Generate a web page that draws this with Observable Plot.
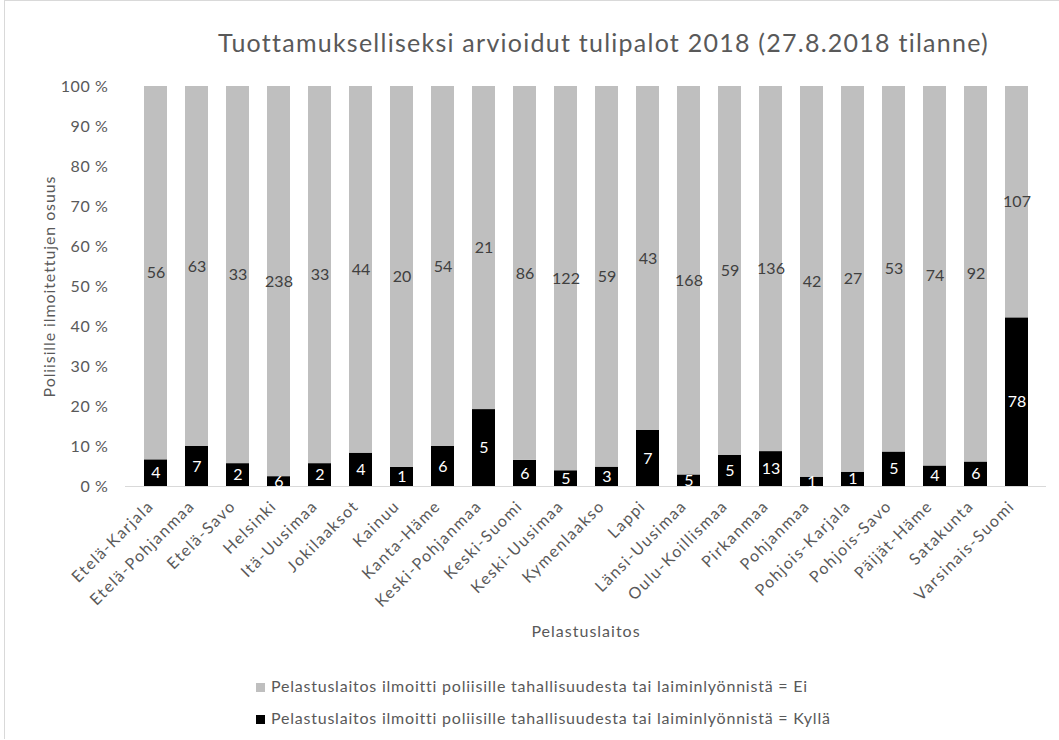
<!DOCTYPE html>
<html>
<head>
<meta charset="utf-8">
<script src="https://cdn.jsdelivr.net/npm/d3@7"></script>
<script src="https://cdn.jsdelivr.net/npm/@observablehq/plot@0.6"></script>
<style>
  html, body { margin: 0; padding: 0; background: #fff; }
  #wrap { position: relative; width: 1059px; height: 740px; overflow: hidden; font-family: Lato, "Open Sans", sans-serif; }
  #frame { position: absolute; left: 4px; top: 0; width: 1100px; height: 738px; border-left: 1px solid #d9d9d9; border-top: 1px solid #d9d9d9; }
  #title { position: absolute; left: 218px; top: 27px; font-size: 25px; letter-spacing: 1.25px; color: #595959; white-space: nowrap; }
  #chart { position: absolute; left: 0; top: 0; }
  .leg { position: absolute; left: 256px; font-size: 16px; letter-spacing: 0.78px; color: #595959; white-space: nowrap; }
  .sw { display: inline-block; width: 9px; height: 9px; margin-right: 6px; vertical-align: 0px; }
  #chart g[aria-label="x-axis tick label"] text { font-size: 16px; letter-spacing: 1.5px; }
  #chart g[aria-label="y-axis tick label"] text { font-size: 16px; letter-spacing: 0.6px; }
  #chart g[aria-label="y-axis label"] text { font-size: 16px; letter-spacing: 0.9px; }
  #chart g[aria-label="x-axis label"] text { font-size: 16px; letter-spacing: 1px; }
</style>
</head>
<body>
<div id="wrap">
  <div id="frame"></div>
  <div id="chart"></div>
  <div id="title">Tuottamukselliseksi arvioidut tulipalot 2018 (27.8.2018 tilanne)</div>
  <div class="leg" style="top:676px"><span class="sw" style="background:#bfbfbf"></span>Pelastuslaitos ilmoitti poliisille tahallisuudesta tai laiminlyönnistä = Ei</div>
  <div class="leg" style="top:708px"><span class="sw" style="background:#000"></span>Pelastuslaitos ilmoitti poliisille tahallisuudesta tai laiminlyönnistä = Kyllä</div>
</div>
<script>
const categories = ["Etelä-Karjala","Etelä-Pohjanmaa","Etelä-Savo","Helsinki","Itä-Uusimaa","Jokilaaksot","Kainuu","Kanta-Häme","Keski-Pohjanmaa","Keski-Suomi","Keski-Uusimaa","Kymenlaakso","Lappi","Länsi-Uusimaa","Oulu-Koillismaa","Pirkanmaa","Pohjanmaa","Pohjois-Karjala","Pohjois-Savo","Päijät-Häme","Satakunta","Varsinais-Suomi"];
const kylla = [4,7,2,6,2,4,1,6,5,6,5,3,7,5,5,13,1,1,5,4,6,78];
const ei = [56,63,33,238,33,44,20,54,21,86,122,59,43,168,59,136,42,27,53,74,92,107];
const yTicks = [0,0.1,0.2,0.3,0.4,0.5,0.6,0.7,0.8,0.9,1];
const yLabel = "Poliisille ilmoitettujen osuus";
const xLabel = "Pelastuslaitos";

const rows = [
  ...categories.map((c, i) => ({cat: c, group: "Kyllä", value: kylla[i]})),
  ...categories.map((c, i) => ({cat: c, group: "Ei", value: ei[i]}))
];

const stackOpts = {offset: "normalize", x: "cat", y: "value", z: "group"};

const chart = Plot.plot({
  width: 1059,
  height: 660,
  marginLeft: 125,
  marginRight: 13,
  marginTop: 86,
  marginBottom: 174,
  style: {fontFamily: "Lato, 'Open Sans', sans-serif", fontSize: "16px", color: "#595959", background: "transparent"},
  x: {domain: categories, padding: 0.45},
  y: {domain: [0, 1]},
  color: {domain: ["Ei", "Kyllä"], range: ["#bfbfbf", "#000000"]},
  marks: [
    Plot.barY(rows, Plot.stackY({...stackOpts, fill: "group"})),
    Plot.ruleY([0], {stroke: "#d9d9d9", strokeWidth: 1}),
    Plot.text(rows, Plot.stackY({...stackOpts, text: d => d.group === "Ei" ? d.value : null, fill: "#404040", fontSize: 16})),
    Plot.text(rows, Plot.stackY({...stackOpts, text: d => d.group === "Kyllä" ? d.value : null, fill: "#ffffff", fontSize: 16})),
    Plot.axisY({ticks: yTicks, tickFormat: d => Math.round(d * 100) + " %", tickSize: 0, tickPadding: 17,
      label: yLabel, labelAnchor: "center", labelArrow: "none", labelOffset: 82}),
    Plot.axisX({tickRotate: -45, tickSize: 0, tickPadding: 12, dx: -5, dy: 5,
      label: xLabel, labelAnchor: "center", labelArrow: "none", labelOffset: 150})
  ]
});
document.getElementById("chart").appendChild(chart);
</script>
</body>
</html>
